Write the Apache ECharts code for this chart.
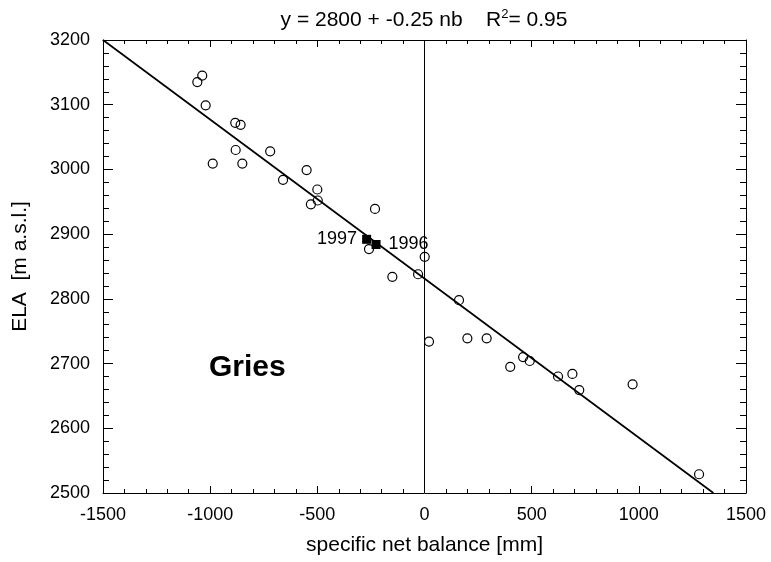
<!DOCTYPE html>
<html><head><meta charset="utf-8">
<script src="https://cdn.jsdelivr.net/npm/echarts@6/dist/echarts.min.js"></script>
<style>html,body{margin:0;padding:0;background:#fff}#c{width:771px;height:562px}</style>
</head><body><div id="c"></div>
<script>
// Observations: specific net balance [mm] and ELA [m a.s.l.]
const balance = [-1037,-1060,-1021,-883,-858,-881,-988,-850,-720,-660,-550,-500,-498,-530,-231,-259,1,-150,-30,161,21,200,290,400,460,491,623,690,722,971,1281];
const ela     = [3145,3135,3099,3072,3069,3030,3009,3009,3028,2984,2999,2969,2952,2946,2939,2877,2865,2834,2838,2798,2734,2739,2739,2695,2710,2704,2680,2684,2659,2668,2529];
// Highlighted years
const yearBalance = [-270,-226];
const yearEla = [2892,2884];
const yearNames = ['1997','1996'];
// Regression line end points
const fitX = [-1500,1348];
const fitY = [3200,2500];
const xTicks = [-1500,-1000,-500,0,500,1000,1500];
const yTicks = [2500,2600,2700,2800,2900,3000,3100,3200];
const titleMain = 'y = 2800 + -0.25 nb    R';
const titleSup = '2';
const titleEnd = '= 0.95';
const glacierName = 'Gries';

const FONT = 'Liberation Sans, Arial, sans-serif';
const chart = echarts.init(document.getElementById('c'));
const axisBase = {
  axisLine:{show:true,onZero:false,lineStyle:{color:'#000',width:1}},
  splitLine:{show:false},
};
const fmt = v => String(v);
chart.setOption({
  animation:false,
  backgroundColor:'#fff',
  grid:{left:103,top:40,right:25,bottom:69},
  xAxis:[
    Object.assign({type:'value',min:xTicks[0],max:xTicks[xTicks.length-1],interval:500,position:'bottom',
      name:'specific net balance [mm]',nameLocation:'middle',nameGap:42,
      nameTextStyle:{fontFamily:FONT,fontSize:21,color:'#000'},
      axisTick:{show:true,inside:true,length:7,lineStyle:{color:'#000'}},
      minorTick:{show:true,splitNumber:5,length:4,lineStyle:{color:'#000'}},
      axisLabel:{fontFamily:FONT,fontSize:18,color:'#000',margin:13,formatter:fmt}},axisBase),
    Object.assign({type:'value',min:xTicks[0],max:xTicks[xTicks.length-1],interval:500,position:'top',
      axisTick:{show:true,inside:true,length:7,lineStyle:{color:'#000'}},
      minorTick:{show:true,splitNumber:5,length:4,lineStyle:{color:'#000'}},
      axisLabel:{show:false}},axisBase)
  ],
  yAxis:[
    Object.assign({type:'value',min:yTicks[0],max:yTicks[yTicks.length-1],interval:100,position:'left',
      name:'ELA  [m a.s.l.]',nameLocation:'middle',nameGap:72,
      nameTextStyle:{fontFamily:FONT,fontSize:21,color:'#000'},
      axisTick:{show:true,inside:true,length:10,lineStyle:{color:'#000'}},
      minorTick:{show:true,splitNumber:5,length:6,lineStyle:{color:'#000'}},
      axisLabel:{fontFamily:FONT,fontSize:18,color:'#000',margin:13,formatter:fmt}},axisBase),
    Object.assign({type:'value',min:yTicks[0],max:yTicks[yTicks.length-1],interval:100,position:'right',
      axisTick:{show:true,inside:true,length:10,lineStyle:{color:'#000'}},
      minorTick:{show:true,splitNumber:5,length:6,lineStyle:{color:'#000'}},
      axisLabel:{show:false}},axisBase)
  ],
  series:[
    {type:'line',xAxisIndex:0,yAxisIndex:0,data:fitX.map((x,i)=>[x,fitY[i]]),
     symbol:'none',lineStyle:{color:'#000',width:1.7},silent:true,z:2,
     markLine:{silent:true,symbol:['none','none'],label:{show:false},
       lineStyle:{color:'#000',width:1,type:'solid'},data:[{xAxis:0}]}},
    {type:'scatter',xAxisIndex:0,yAxisIndex:0,data:balance.map((x,i)=>[x,ela[i]]),
     symbol:'circle',symbolSize:9,itemStyle:{color:'rgba(255,255,255,0)',borderColor:'#000',borderWidth:1.2,opacity:1},z:3},
    {type:'scatter',xAxisIndex:0,yAxisIndex:0,
     data:yearBalance.map((x,i)=>({value:[x,yearEla[i]],
       label:{show:true,formatter:yearNames[i],position:i===0?'left':'right',distance:i===0?5:8,
              fontFamily:FONT,fontSize:18,color:'#000',opacity:1}})),
     symbol:'rect',symbolSize:9,itemStyle:{color:'#000',opacity:1},z:4}
  ],
  graphic:[
    {type:'text',x:424,y:8,style:{
      text:'{a|'+titleMain+'}{s|'+titleSup+'}{a|'+titleEnd+'}',align:'center',
      rich:{a:{font:'21px '+FONT,fill:'#000',lineHeight:24},
            s:{font:'13px '+FONT,fill:'#000',lineHeight:24,verticalAlign:'top',padding:[0,0,0,0]}}}},
    {type:'text',left:209,top:353,style:{text:glacierName,font:'bold 30px '+FONT,fill:'#000'}}
  ]
});
</script></body></html>
